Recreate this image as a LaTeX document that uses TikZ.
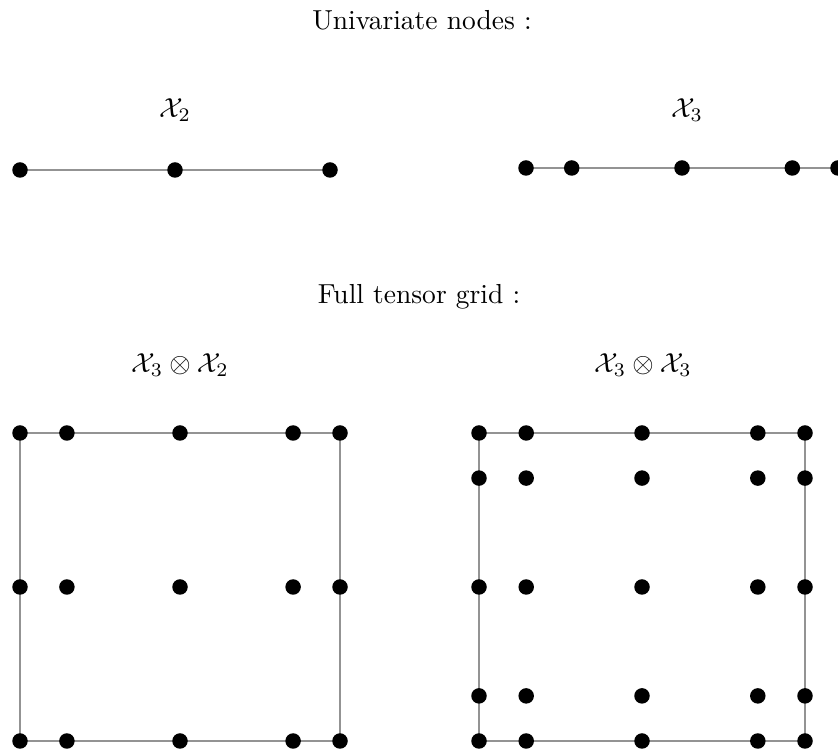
\documentclass[tikz,border=0pt]{standalone}
\usetikzlibrary{backgrounds}
\tikzset{
  dot/.style={circle,fill=black,inner sep=0pt,minimum size=15.5*0.3636pt},
  gridline/.style={draw=gray!85,line width=0.65pt},
  lbl/.style={inner sep=0pt,anchor=center}
}
\begin{document}
\begin{tikzpicture}[x=0.3636pt,y=-0.3636pt]
\clip (0,0) rectangle (838,751);
% titles
\node[lbl] (t1) at (422,20) {Univariate nodes :};
\node[lbl] (t2) at (419,297) {Full tensor grid :};
\node[lbl] (l1) at (175,110) {$\mathcal{X}_2$};
\node[lbl] (l2) at (687,110) {$\mathcal{X}_3$};
\node[lbl] (l3) at (180,365) {$\mathcal{X}_3\otimes\mathcal{X}_2$};
\node[lbl] (l4) at (643,365) {$\mathcal{X}_3\otimes\mathcal{X}_3$};
% univariate X2
\foreach \x [count=\i] in {20,175,330} \node[dot] (a\i) at (\x,170) {};
% univariate X3
\foreach \x [count=\i] in {526,571.7,682,792.3,838} \node[dot] (b\i) at (\x,168) {};
% grid X3 x X2
\foreach \x [count=\i] in {20,66.9,180,293.1,340}
  \foreach \y [count=\j] in {433,587,741}
    \node[dot] (c\i\j) at (\x,\y) {};
% grid X3 x X3
\foreach \x [count=\i] in {479,526.2,642,757.8,805}
  \foreach \y [count=\j] in {433,478.1,587,695.9,741}
    \node[dot] (d\i\j) at (\x,\y) {};
\begin{scope}[on background layer]
\draw[gridline] (a1.center) -- (a2.center) -- (a3.center);
\draw[gridline] (b1.center) -- (b2.center) -- (b3.center) -- (b4.center) -- (b5.center);
\draw[gridline] (c11.center) -- (c51.center) -- (c53.center) -- (c13.center) -- cycle;
\draw[gridline] (d11.center) -- (d51.center) -- (d55.center) -- (d15.center) -- cycle;
\end{scope}
\end{tikzpicture}
\end{document}
